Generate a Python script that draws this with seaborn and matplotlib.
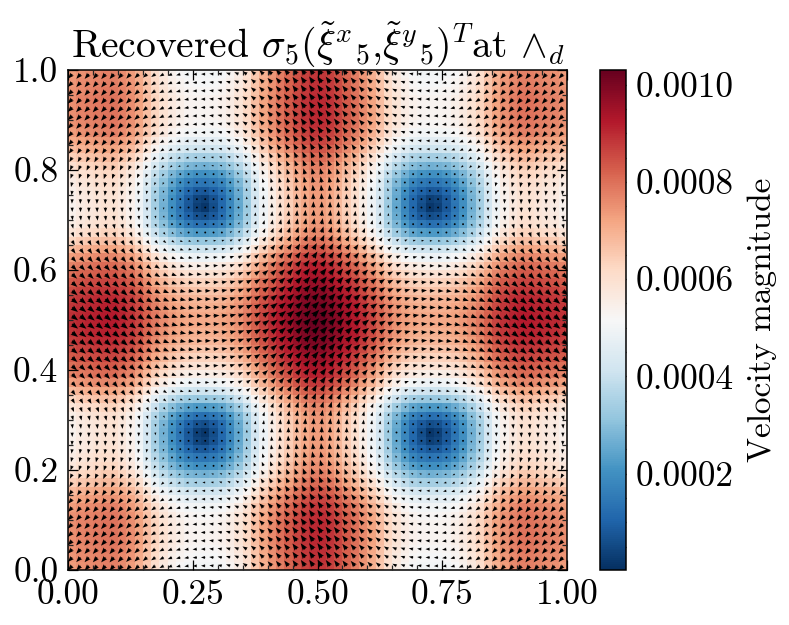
import numpy as np
import pandas as pd
import matplotlib
matplotlib.use("Agg")
import matplotlib.pyplot as plt
from matplotlib.ticker import MultipleLocator
import seaborn as sns

# x-velocity as it varies along y, y-velocity as it varies along x (units of 1e-4)
# both for the 60 rows/columns of the field
u_by_y = [
    -5.0, -5.1, -5.2, -5.3, -5.3, -5.3, -5.2, -5.0, -4.6, -4.1,
    -3.4, -2.7, -2.0, -1.4, -0.8, -0.3, 0.1, 0.6, 1.3, 2.2,
    3.2, 4.1, 4.9, 5.5, 5.9, 6.3, 6.6, 6.85, 7.0, 7.1,
    7.1, 7.0, 6.85, 6.6, 6.3, 5.9, 5.5, 4.9, 4.1, 3.2,
    2.2, 1.3, 0.6, 0.1, -0.3, -0.8, -1.4, -2.0, -2.7, -3.4,
    -4.1, -4.6, -5.0, -5.2, -5.3, -5.3, -5.3, -5.2, -5.1, -5.0,
]
v_by_x = [
    -5.4, -5.6, -5.7, -5.8, -5.9, -5.9, -5.7, -5.4, -4.9, -4.2,
    -3.4, -2.7, -2.0, -1.4, -0.8, -0.3, 0.1, 0.6, 1.1, 1.8,
    2.5, 3.3, 4.2, 4.9, 5.5, 6.0, 6.4, 6.8, 7.1, 7.3,
    7.3, 7.1, 6.8, 6.4, 6.0, 5.5, 4.9, 4.2, 3.3, 2.5,
    1.8, 1.1, 0.6, 0.1, -0.3, -0.8, -1.4, -2.0, -2.7, -3.4,
    -4.2, -4.9, -5.4, -5.7, -5.9, -5.9, -5.8, -5.7, -5.6, -5.4,
]
x_ticks = [0.00, 0.25, 0.50, 0.75, 1.00]
y_ticks = [0.0, 0.2, 0.4, 0.6, 0.8, 1.0]
cbar_ticks = [0.0002, 0.0004, 0.0006, 0.0008, 0.0010]
title = r"Recovered $\sigma_5(\tilde{\xi}^{x}{}_{5}{,}\tilde{\xi}^{y}{}_{5})^T$at $\wedge_d$"

sns.set_theme(style="ticks")
plt.rcParams['font.family'] = ['cmr10', 'DejaVu Serif']
plt.rcParams['mathtext.fontset'] = 'cm'
plt.rcParams['axes.unicode_minus'] = False

n = len(u_by_y)
U = np.tile(np.array(u_by_y)[:, None] * 1e-4, (1, n))
V = np.tile(np.array(v_by_x)[None, :] * 1e-4, (n, 1))
speed = pd.DataFrame(np.hypot(U, V))

fig = plt.figure(figsize=(7.89, 6.25), dpi=100)
ax = fig.add_axes([68 / 789, 55 / 625, 499 / 789, 500 / 625])
cax = fig.add_axes([600 / 789, 55 / 625, 26 / 789, 500 / 625])

sns.heatmap(speed, ax=ax, cbar_ax=cax, cmap="RdBu_r", vmin=0.000002, vmax=0.00103,
            xticklabels=False, yticklabels=False)
ax.invert_yaxis()

centres = np.arange(n) + 0.5
ax.quiver(centres, centres, U, V, color="black", scale=0.06, width=0.0042,
          headwidth=3, headlength=4, headaxislength=3.5)

# tick positions are in cell units on a heatmap
ax.set_xticks([t * n for t in x_ticks], [f"{t:.2f}" for t in x_ticks])
ax.set_yticks([t * n for t in y_ticks], [f"{t:.1f}" for t in y_ticks])
ax.xaxis.set_minor_locator(MultipleLocator(3))
ax.yaxis.set_minor_locator(MultipleLocator(3))
ax.tick_params(which="major", direction="in", length=7.5, width=0.9, top=True, right=True,
               bottom=True, left=True, labelsize=25.5, pad=7, colors="black")
ax.tick_params(which="minor", direction="in", length=3.8, width=0.9, top=True, right=True,
               bottom=True, left=True)
ax.set_axisbelow(False)
for spine in ax.spines.values():
    spine.set_visible(True)
    spine.set_linewidth(1.1)
    spine.set_color("black")
ax.set_title(title, fontsize=28.5, pad=8, color="black")

cb = ax.collections[0].colorbar
cb.outline.set_linewidth(1.1)
cb.outline.set_edgecolor("black")
cb.set_ticks(cbar_ticks, labels=[f"{t:.4f}" for t in cbar_ticks])
cax.yaxis.set_minor_locator(MultipleLocator(0.00005))
cax.tick_params(which="major", direction="in", length=7.5, width=0.9, labelsize=25.5, pad=7,
                right=True, left=False, colors="black")
cax.tick_params(which="minor", direction="in", length=3.8, width=0.9, right=True, left=False)
cb.set_label("Velocity magnitude", fontsize=24, labelpad=10, color="black")

fig.savefig("out.png", dpi=100)
